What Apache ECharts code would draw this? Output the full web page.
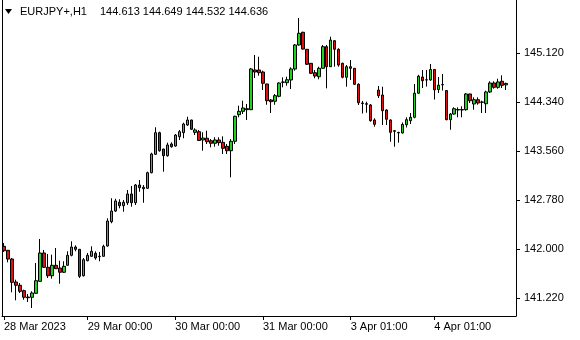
<!DOCTYPE html>
<html><head><meta charset="utf-8">
<script src="https://cdn.jsdelivr.net/npm/echarts@6/dist/echarts.min.js"></script>
<style>html,body{margin:0;padding:0;background:#fff}#c{width:580px;height:340px}</style>
</head><body><div id="c"></div>
<script>
const symbolName = 'EURJPY+,H1';
const opens = [
142.043,141.980,141.841,141.475,141.423,141.337,141.236,141.232,141.295,141.486,
141.937,141.709,141.575,141.741,141.698,141.630,141.741,141.900,142.032,141.996,
141.575,141.814,141.884,141.932,141.884,141.884,142.048,142.435,142.605,142.744,
142.690,142.737,142.876,142.737,143.019,142.983,142.967,143.215,143.508,143.852,
143.592,143.486,143.672,143.640,143.788,143.852,143.974,144.054,143.858,143.868,
143.736,143.763,143.724,143.683,143.736,143.699,143.635,143.565,143.715,144.138,
144.192,144.234,144.218,144.850,144.850,144.818,144.627,144.372,144.352,144.431,
144.659,144.648,144.691,144.866,145.248,145.450,145.179,144.956,144.807,144.743,
144.877,145.221,144.902,145.316,145.179,144.956,144.734,144.902,144.877,144.622,
144.324,144.313,144.293,144.054,144.531,144.452,144.213,144.054,143.884,143.855,
143.847,143.979,144.043,144.097,144.480,144.738,144.694,144.691,144.858,144.539,
144.619,144.523,144.059,144.149,144.221,144.213,144.218,144.468,144.309,144.377,
144.340,144.313,144.500,144.643,144.574,144.670,144.613];
const highs = [
142.096,141.985,141.857,141.512,141.459,141.353,141.284,141.327,141.778,142.160,
141.985,141.921,141.910,142.016,141.814,141.805,141.964,142.123,142.059,142.000,
141.857,141.937,142.043,141.964,141.953,142.069,142.489,142.808,142.800,142.792,
142.780,142.940,143.003,143.035,143.099,143.019,143.231,143.533,143.938,143.868,
143.596,143.693,143.699,143.831,143.895,144.011,144.106,144.058,143.922,143.895,
143.858,143.884,143.751,143.779,143.779,143.794,143.672,143.751,144.122,144.282,
144.361,144.309,144.882,145.089,145.061,144.839,144.631,144.388,144.468,144.654,
144.734,144.743,144.893,145.264,145.678,145.459,145.183,144.960,144.850,144.902,
145.248,145.248,145.380,145.327,145.195,144.966,144.929,145.009,144.881,144.638,
144.356,144.345,144.309,144.081,144.595,144.584,144.224,144.065,143.895,143.868,
144.014,144.097,144.165,144.627,144.773,144.850,144.850,144.945,144.866,144.738,
144.786,144.531,144.165,144.256,144.256,144.272,144.484,144.472,144.415,144.415,
144.361,144.520,144.670,144.670,144.711,144.765,144.649];
const lows = [
141.953,141.789,141.311,141.184,141.300,141.193,141.157,141.061,141.290,141.480,
141.698,141.539,141.528,141.683,141.448,141.618,141.736,141.884,141.964,141.539,
141.562,141.805,141.873,141.830,141.805,141.880,142.037,142.410,142.589,142.648,
142.594,142.701,142.674,142.701,142.912,142.737,142.960,143.205,143.497,143.549,
143.231,143.470,143.613,143.629,143.736,143.763,143.958,143.895,143.815,143.720,
143.565,143.672,143.619,143.629,143.645,143.513,143.513,143.142,143.672,144.097,
144.149,144.054,144.214,144.722,144.759,144.531,144.297,144.165,144.297,144.415,
144.574,144.600,144.547,144.839,145.237,145.175,144.929,144.786,144.718,144.702,
144.873,144.558,144.898,144.902,144.902,144.718,144.584,144.691,144.611,144.293,
144.157,144.170,144.027,143.947,144.404,143.974,143.974,143.708,143.629,143.693,
143.840,143.935,143.990,144.081,144.468,144.563,144.587,144.679,144.380,144.484,
144.523,144.050,143.899,144.138,144.097,144.097,144.202,144.324,144.218,144.297,
144.165,144.165,144.484,144.552,144.552,144.563,144.532];
const closes = [
141.973,141.841,141.470,141.423,141.327,141.232,141.225,141.300,141.496,141.937,
141.709,141.575,141.741,141.687,141.630,141.725,141.900,142.032,141.996,141.566,
141.830,141.900,141.964,141.857,141.878,142.043,142.446,142.605,142.765,142.690,
142.744,142.876,142.737,143.019,142.976,142.960,143.215,143.513,143.852,143.565,
143.486,143.656,143.629,143.815,143.868,143.990,144.054,143.906,143.895,143.728,
143.767,143.708,143.683,143.736,143.693,143.603,143.565,143.715,144.113,144.192,
144.245,144.218,144.866,144.818,144.807,144.638,144.361,144.345,144.441,144.643,
144.654,144.695,144.866,145.248,145.434,145.183,144.941,144.797,144.754,144.877,
145.221,144.902,145.327,145.179,144.929,144.734,144.902,144.877,144.622,144.329,
144.317,144.305,144.043,143.985,144.441,144.202,144.065,143.858,143.874,143.847,
143.982,144.059,144.097,144.480,144.751,144.679,144.691,144.858,144.535,144.608,
144.614,144.059,144.149,144.234,144.213,144.221,144.468,144.361,144.377,144.324,
144.336,144.500,144.643,144.574,144.659,144.606,144.636];
const priceTicks = [141.22, 142.00, 142.78, 143.56, 144.34, 145.12];
const timeLabels = ['28 Mar 2023', '29 Mar 00:00', '30 Mar 00:00', '31 Mar 00:00', '3 Apr 01:00', '4 Apr 01:00'];
const timeLabelBars = [0, 21, 43, 65, 87, 108];

const yMin = 140.934, yMax = 145.964;
const slotCount = 129;
const FONT = '"Liberation Sans", Arial, sans-serif';

const cats = [];
for (let i = 0; i < slotCount; i++) cats.push(String(i));
const labelMap = {};
timeLabelBars.forEach((b, k) => { labelMap[b] = timeLabels[k]; });
const ohlc = opens.map((o, i) => [o, closes[i], lows[i], highs[i]]);
const n = opens.length;
const f3 = v => Number(v).toFixed(3);

const chart = echarts.init(document.getElementById('c'), null, {renderer: 'canvas'});
chart.setOption({
  animation: false,
  backgroundColor: '#fff',
  grid: {left: 2, right: 64, top: 0, bottom: 24},
  xAxis: {
    type: 'category', data: cats, boundaryGap: true,
    axisLine: {show: true, lineStyle: {color: '#000', width: 1}},
    axisTick: {show: true, alignWithLabel: true, length: 4, lineStyle: {color: '#000'},
      interval: (i) => labelMap[i] !== undefined},
    axisLabel: {show: true, interval: (i) => labelMap[i] !== undefined,
      formatter: (v, i) => labelMap[i] || '', align: 'left', margin: 5,
      color: '#000', fontFamily: FONT, fontSize: 11},
    splitLine: {show: false}
  },
  yAxis: [{
    type: 'value', position: 'right', min: yMin, max: yMax,
    axisLine: {show: true, lineStyle: {color: '#000'}},
    axisTick: {show: true, length: 4, lineStyle: {color: '#000'}, customValues: priceTicks},
    axisLabel: {show: true, customValues: priceTicks, formatter: v => f3(v), margin: 8,
      color: '#000', fontFamily: FONT, fontSize: 11},
    splitLine: {show: false}
  }, {
    type: 'value', position: 'left', min: yMin, max: yMax,
    axisLine: {show: true, lineStyle: {color: '#000'}},
    axisTick: {show: false}, axisLabel: {show: false}, splitLine: {show: false}
  }],
  series: [{
    type: 'candlestick', data: ohlc, barWidth: 3,
    itemStyle: {color: '#22d022', color0: '#e01010', borderColor: '#000', borderColor0: '#000', borderWidth: 1},
    markLine: {
      symbol: 'none', silent: true, animation: false,
      lineStyle: {opacity: 0},
      data: [{yAxis: closes[n - 1]}],
      label: {show: true, position: 'end', distance: 1, formatter: p => f3(p.value),
        backgroundColor: '#000', color: '#fff', padding: [3, 6, 2, 4],
        fontFamily: FONT, fontSize: 11}
    }
  }],
  graphic: [
    {type: 'polygon', shape: {points: [[5, 9], [12, 9], [8.5, 14]]}, style: {fill: '#000'}},
    {type: 'text', left: 20, top: 6, style: {text: symbolName, fill: '#000', font: '11px ' + FONT}},
    {type: 'text', left: 100, top: 6, style: {
      text: [opens[n - 1], highs[n - 1], lows[n - 1], closes[n - 1]].map(f3).join(' '),
      fill: '#000', font: '11px ' + FONT}}
  ]
});
</script>
</body></html>
